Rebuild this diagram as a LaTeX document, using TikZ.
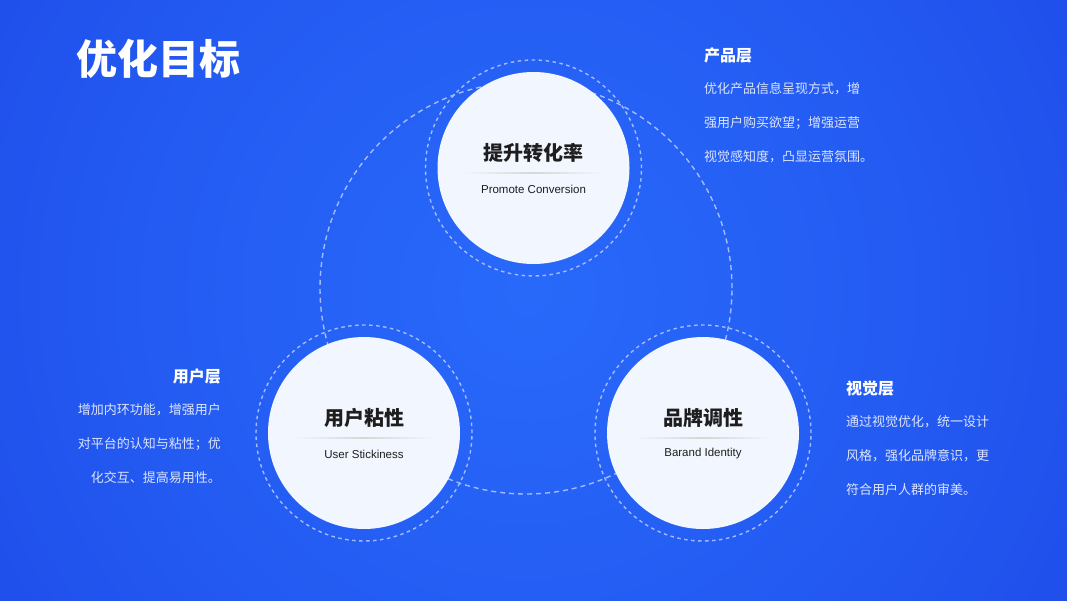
\documentclass[tikz,border=0pt]{standalone}
\usepackage{fontspec}
\setmainfont{Liberation Sans}
\newfontfamily\cjk{Noto Sans CJK SC}
\usetikzlibrary{calc}
\definecolor{bgin}{HTML}{2869FA}
\definecolor{bgout}{HTML}{1B40E2}
\definecolor{cfill}{HTML}{F2F6FE}
\definecolor{dashc}{HTML}{A3BCFF}
\definecolor{ptxt}{HTML}{DCE4FF}
\definecolor{dark}{HTML}{1E1E1E}
\pgfdeclareradialshading{bgshade}{\pgfpoint{0bp}{0bp}}{color(0bp)=(bgin); color(14bp)=(bgin!65!bgout); color(32bp)=(bgout); color(50bp)=(bgout)}
\tikzset{
  wcirc/.style={circle, fill=cfill, minimum size=192pt, inner sep=0pt},
  dring/.style={circle, draw=dashc, dash pattern=on 3.5pt off 3.5pt, line width=1.4pt, minimum size=216pt, inner sep=0pt},
  bigring/.style={circle, draw=dashc, dash pattern=on 5pt off 4pt, line width=1.4pt, minimum size=412pt, inner sep=0pt},
  ctitle/.style={font=\cjk\bfseries\fontsize{20}{24}\selectfont, text=dark, inner sep=0pt},
  csub/.style={font=\fontsize{11.5}{14}\selectfont, text=dark, inner sep=0pt},
  head/.style={font=\cjk\bfseries\fontsize{16}{19}\selectfont, text=white, inner sep=0pt},
  para/.style={font=\cjk\fontsize{13}{16}\selectfont, text=ptxt, inner sep=0pt},
  divider/.style={left color=cfill, right color=cfill, middle color=black!16},
}
\begin{document}
\begin{tikzpicture}[x=1pt,y=-1pt]
  \useasboundingbox (0,0) rectangle (1067,600);
  \begin{scope}
    \clip (0,0) rectangle (1067,600);
    \fill[bgout] (0,0) rectangle (1067,600);
    \shade[shading=bgshade] (528,292) circle[radius=700pt];
  \end{scope}

  % big dashed ring
  \node[bigring] (big) at (526,288) {};

  % dashed rings
  \node[dring] (rtop) at (533.5,168) {};
  \node[dring] (rleft) at (364,433) {};
  \node[dring] (rright) at (703,433) {};

  % white circles
  \node[wcirc] (ctop) at (533.5,168) {};
  \node[wcirc] (cleft) at (364,433) {};
  \node[wcirc] (cright) at (703,433) {};

  % dividers
  \shade[divider] ($(ctop)+(-70,4.5)$) rectangle ($(ctop)+(70,5.5)$);
  \shade[divider] ($(cleft)+(-70,4.5)$) rectangle ($(cleft)+(70,5.5)$);
  \shade[divider] ($(cright)+(-70,4.5)$) rectangle ($(cright)+(70,5.5)$);

  % circle texts
  \node[ctitle] (ttop) at ($(ctop)+(0,-15)$) {提升转化率};
  \node[csub] (stop) at ($(ctop)+(0,21)$) {Promote Conversion};
  \node[ctitle] (tleft) at ($(cleft)+(0,-15)$) {用户粘性};
  \node[csub] (sleft) at ($(cleft)+(0,21)$) {User Stickiness};
  \node[ctitle] (tright) at ($(cright)+(0,-15)$) {品牌调性};
  \node[csub] (sright) at ($(cright)+(0,21)$) {Barand Identity};

  % title
  \node[anchor=west, font=\cjk\bfseries\fontsize{41}{49}\selectfont, text=white, inner sep=0pt] (title) at (76,58.5) {优化目标};

  % product layer
  \node[head, anchor=west] (hprod) at (704,55) {产品层};
  \node[para, anchor=west] (p1) at (704,89) {优化产品信息呈现方式，增};
  \node[para, anchor=west] (p2) at (704,123) {强用户购买欲望；增强运营};
  \node[para, anchor=west] (p3) at (704,157) {视觉感知度，凸显运营氛围。};

  % user layer
  \node[head, anchor=east] (huser) at (221,376) {用户层};
  \node[para, anchor=east] (u1) at (221,410) {增加内环功能，增强用户};
  \node[para, anchor=east] (u2) at (221,444) {对平台的认知与粘性；优};
  \node[para, anchor=east] (u3) at (221,478) {化交互、提高易用性。};

  % visual layer
  \node[head, anchor=west] (hvis) at (846,388) {视觉层};
  \node[para, anchor=west] (v1) at (846,422) {通过视觉优化，统一设计};
  \node[para, anchor=west] (v2) at (846,456) {风格，强化品牌意识，更};
  \node[para, anchor=west] (v3) at (846,490) {符合用户人群的审美。};
\end{tikzpicture}
\end{document}
